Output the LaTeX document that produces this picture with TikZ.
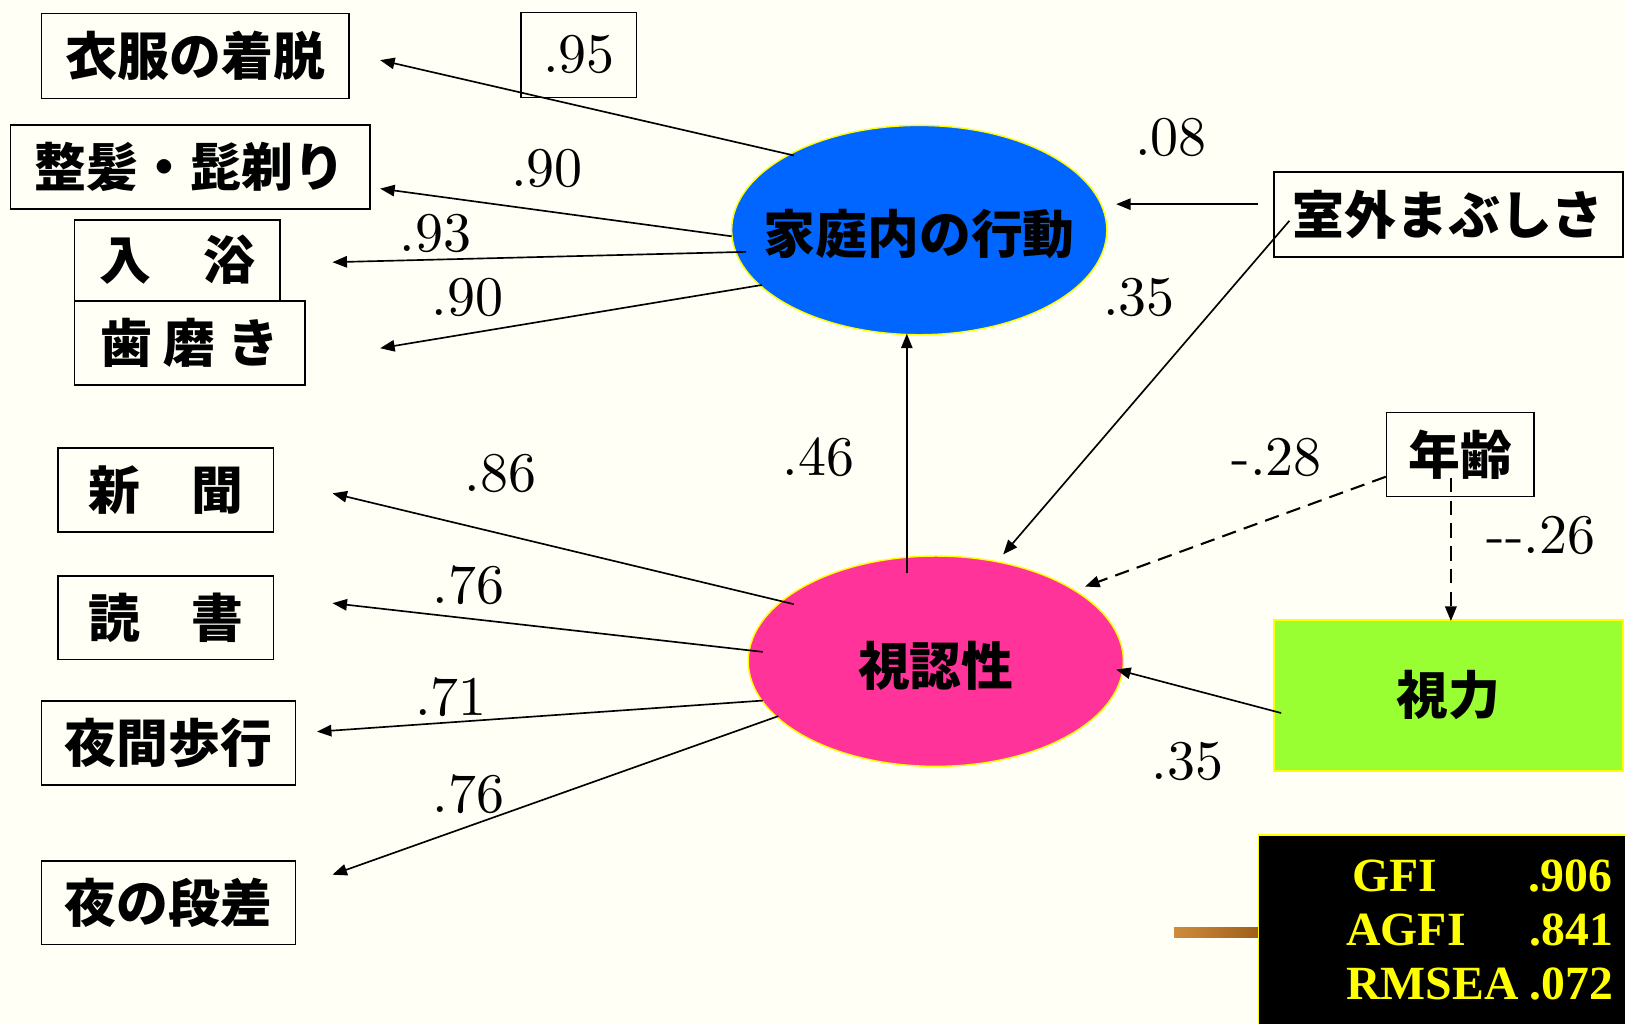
\documentclass[tikz,border=0pt]{standalone}
\usepackage{fontspec}
\usetikzlibrary{shapes.geometric,arrows.meta}
\newfontfamily\jpfont{Noto Sans CJK JP}
\newfontfamily\fitfont{Liberation Serif}
\newfontfamily\numfont{lmroman10-regular.otf}
\definecolor{bgc}{RGB}{255,255,246}
\definecolor{blueC}{RGB}{0,102,255}
\definecolor{pinkC}{RGB}{255,51,153}
\definecolor{greenC}{RGB}{153,255,51}
\definecolor{yelC}{RGB}{255,255,0}
\definecolor{brownA}{RGB}{205,140,60}
\definecolor{brownB}{RGB}{160,95,25}
\begin{document}
\begin{tikzpicture}[x=1pt,y=-1pt,
  jp/.style={font={\jpfont\bfseries\fontsize{50}{56}\selectfont}},
  box/.style={draw=black, line width=1.6pt, inner sep=0pt, jp},
  ell/.style={ellipse, draw=yelC, line width=1.4pt, inner sep=0pt},
  num/.style={font={\numfont\fontsize{54}{58}\selectfont}, inner sep=0pt},
  fitt/.style={font={\fitfont\bfseries\fontsize{46}{50}\selectfont}, text=yelC, inner sep=0pt},
  arr/.style={draw=black, line width=1.6pt, -{Triangle[length=14pt,width=11pt]}},
  dsh/.style={arr, line width=2pt, dash pattern=on 14pt off 8pt}]
\fill[bgc] (0,0) rectangle (1568,988);
\useasboundingbox (0,0) rectangle (1568,988);

% observed variables (boxes)
\node[box, minimum width=297pt, minimum height=82pt] (yifuku) at (188.5,54) {衣服の着脱};
\node[box, num, minimum width=111pt, minimum height=82pt] (b95) at (558.5,53) {.95};
\node[box, minimum width=347pt, minimum height=81pt] (seihatsu) at (183.5,161) {整髪・髭剃り};
\node[box, minimum width=198pt, minimum height=78pt] (nyuyoku) at (171,251) {入　浴};
\node[box, minimum width=222pt, minimum height=81pt] (hamigaki) at (183,331) {歯 磨 き};
\node[box, minimum width=208pt, minimum height=81pt] (shinbun) at (160,473) {新　聞};
\node[box, minimum width=208pt, minimum height=81pt] (dokusho) at (160,596) {読　書};
\node[box, minimum width=245pt, minimum height=81pt] (yakan) at (162.5,717) {夜間歩行};
\node[box, minimum width=245pt, minimum height=81pt] (dansa) at (162.5,871) {夜の段差};
\node[box, minimum width=337pt, minimum height=82pt] (shitsugai) at (1397.5,207) {室外まぶしさ};
\node[box, minimum width=142pt, minimum height=81pt] (nenrei) at (1409,438.5) {年齢};
\node[box, draw=yelC, fill=greenC, minimum width=337pt, minimum height=146pt] (shiryoku) at (1397.5,671) {視力};

% latent variables
\node[ell, fill=blueC, minimum width=362pt, minimum height=202pt] (kat) at (887,222) {};
\node[jp, inner sep=0pt] (kattext) at (887,226) {家庭内の行動};
\node[ell, fill=pinkC, minimum width=362pt, minimum height=203pt] (shi) at (903,638) {};
\node[jp, inner sep=0pt] (shitext) at (903,642) {視認性};

% fit indices
\shade[left color=brownA, right color=brownB] (1133,895) rectangle (1214,905);
\node[draw=yelC, fill=black, line width=1.2pt, minimum width=360pt, minimum height=190pt, anchor=north west, inner sep=0pt] (fit) at (1214,805) {};
\node[fitt, anchor=base west] (gfi) at (1305,860) {GFI};
\node[fitt, anchor=base west] (agfi) at (1299,912) {AGFI};
\node[fitt, anchor=base west] (rmsea) at (1299,964) {RMSEA};
\node[fitt, anchor=base east] (vgfi) at (1556,860) {.906};
\node[fitt, anchor=base east] (vagfi) at (1557,912) {.841};
\node[fitt, anchor=base east] (vrmsea) at (1557,964) {.072};

% connectors
\draw[arr] ([shift={(-121,-72)}]kat.center) -- ([shift={(29,4)}]yifuku.east);
\draw[arr] ([shift={(-181,6)}]kat.center) -- ([shift={(9,21)}]seihatsu.east);
\draw[arr] ([shift={(-167,21)}]kat.center) -- ([shift={(50,2)}]nyuyoku.east);
\draw[arr] ([shift={(-152,53)}]kat.center) -- ([shift={(72,5)}]hamigaki.east);
\draw[arr] ([shift={(-14,-10)}]shitsugai.west) -- ([shift={(190,-25)}]kat.center);
\draw[arr] ([shift={(16,6)}]shitsugai.west) -- ([shift={(65,-103)}]shi.center);
\draw[arr] ([shift={(-28,-85)}]shi.center) -- ([shift={(-12,100)}]kat.center);
\draw[arr] ([shift={(-137,-55)}]shi.center) -- ([shift={(56,3)}]shinbun.east);
\draw[arr] ([shift={(-167,-9)}]shi.center) -- ([shift={(56,-14)}]dokusho.east);
\draw[arr] ([shift={(-167,38)}]shi.center) -- ([shift={(20,-11)}]yakan.east);
\draw[arr] ([shift={(-152,53)}]shi.center) -- ([shift={(35,-27)}]dansa.east);
\draw[dsh] ([shift={(0,21.5)}]nenrei.west) -- ([shift={(144,-72)}]shi.center);
\draw[dsh] ([shift={(-9,22.5)}]nenrei.center) -- ([shift={(2.5,2)}]shiryoku.north);
\draw[arr] ([shift={(8,17)}]shiryoku.west) -- ([shift={(174,8)}]shi.center);

% coefficient labels
\node[num] (l90a) at (528,163) {.90};
\node[num] (l93) at (420,225) {.93};
\node[num] (l90b) at (451,287) {.90};
\node[num] (l08) at (1130,133) {.08};
\node[num] (l35a) at (1099,287) {.35};
\node[num] (l46) at (790,441) {.46};
\node[num] (l86) at (483,457) {.86};
\node[num] (l76a) at (452,565) {.76};
\node[num] (l71) at (435,673) {.71};
\node[num] (l76b) at (452,766) {.76};
\node[num] (l28) at (1232,441) {-.28};
\node[num] (l26) at (1487,517) {-\kern0pt-.26};
\node[num] (l35b) at (1146,735) {.35};
\end{tikzpicture}
\end{document}
